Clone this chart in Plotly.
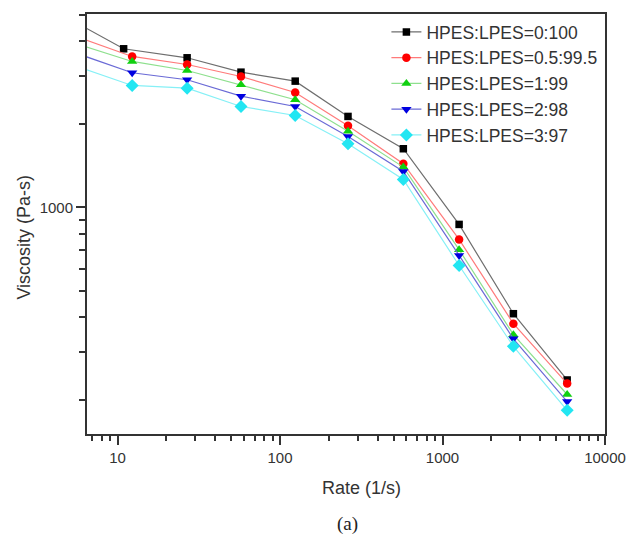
import plotly.graph_objects as go

# ── Data ─────────────────────────────────────────────────────────────────────
NAMES = [
    "HPES:LPES=0:100",
    "HPES:LPES=0.5:99.5",
    "HPES:LPES=1:99",
    "HPES:LPES=2:98",
    "HPES:LPES=3:97",
]

# shear rate (1/s); first point lies just left of the axis and is clipped
RATE_0 = [5.5, 10.9, 26.8, 57.5, 124, 262, 574, 1265, 2730, 5850]
RATE = [5.5, 12.3, 26.8, 57.5, 124, 262, 574, 1265, 2730, 5850]

VISC_0 = [4690, 3758, 3486, 3092, 2869, 2137, 1632, 868, 412, 237]
VISC_05 = [4170, 3525, 3297, 2983, 2610, 1977, 1440, 766, 379, 230]
VISC_1 = [3930, 3381, 3135, 2784, 2456, 1890, 1400, 703, 346, 210]
VISC_2 = [3630, 3076, 2902, 2531, 2322, 1808, 1350, 670, 334, 198]
VISC_3 = [3260, 2767, 2705, 2322, 2154, 1701, 1263, 616, 314, 184]

# ── Style ────────────────────────────────────────────────────────────────────
FONT = "Liberation Sans, Arial, sans-serif"
AXIS = "#333333"
STYLES = [
    # marker colour, line colour, symbol, size
    ("#000000", "#6e6e6e", "square", 7.5),
    ("#ff0000", "#ff7a7a", "circle", 8.5),
    ("#10d010", "#8ee08e", "triangle-up", 9),
    ("#0000e0", "#6a6ad6", "triangle-down", 9),
    ("#22e6f2", "#86f0f6", "diamond", 10),
]

XS = [RATE_0, RATE, RATE, RATE, RATE]
YS = [VISC_0, VISC_05, VISC_1, VISC_2, VISC_3]

fig = go.Figure()
for name, xs, ys, (mc, lc, sym, size) in zip(NAMES, XS, YS, STYLES):
    fig.add_trace(
        go.Scatter(
            x=xs,
            y=ys,
            name=name,
            mode="lines+markers",
            line=dict(color=lc, width=1.2),
            marker=dict(color=mc, symbol=sym, size=size, line=dict(width=0)),
        )
    )

x_minor = [m * 10 ** e for e in range(0, 4) for m in range(2, 10)]
y_minor = [m * 10 ** e for e in range(2, 4) for m in range(2, 10)]

axis_common = dict(
    type="log",
    showgrid=False,
    zeroline=False,
    showline=True,
    linecolor=AXIS,
    linewidth=2,
    mirror=True,
    ticks="outside",
    ticklen=9,
    tickwidth=1.5,
    tickcolor=AXIS,
    tickfont=dict(family=FONT, size=15, color="#333333"),
)

fig.update_xaxes(
    **axis_common,
    range=[0.812, 4.0],
    tickmode="array",
    tickvals=[10, 100, 1000, 10000],
    ticktext=["10", "100", "1000", "10000"],
    minor=dict(ticks="outside", ticklen=5, tickwidth=1.5, tickcolor=AXIS,
               tickmode="array", tickvals=x_minor),
)
fig.update_yaxes(
    **axis_common,
    range=[2.179, 3.701],
    tickmode="array",
    tickvals=[1000],
    ticktext=["1000"],
    minor=dict(ticks="outside", ticklen=6, tickwidth=1.5, tickcolor=AXIS,
               tickmode="array", tickvals=y_minor),
)

# axis titles and caption as annotations so they sit where the reference has them
fig.add_annotation(
    text="Viscosity (Pa-s)", xref="paper", yref="paper", x=-0.1224, y=0.469,
    textangle=-90, showarrow=False, xanchor="center", yanchor="middle",
    font=dict(family=FONT, size=18, color="#333333"),
)
fig.add_annotation(
    text="Rate (1/s)", xref="paper", yref="paper", x=0.5294, y=-0.1286,
    showarrow=False, xanchor="center", yanchor="middle",
    font=dict(family=FONT, size=18, color="#333333"),
)
fig.add_annotation(
    text="(a)", xref="paper", yref="paper", x=0.502, y=-0.2143,
    showarrow=False, xanchor="center", yanchor="middle",
    font=dict(family="Liberation Serif, Times New Roman, serif", size=19, color="#222222"),
)

fig.update_layout(
    width=638,
    height=535,
    margin=dict(l=87, r=24, t=14, b=101),
    plot_bgcolor="white",
    paper_bgcolor="white",
    font=dict(family=FONT, color="#333333"),
    legend=dict(
        x=0.578, y=1.0, xanchor="left", yanchor="top",
        bgcolor="rgba(0,0,0,0)",
        font=dict(family=FONT, size=17.5, color="#333333"),
        tracegroupgap=0,
    ),
)

# the page body has a default 8px margin; drop it so the figure fills the window
fig.write_html(
    "out.html",
    config={"displayModeBar": False},
    post_script="document.body.style.margin = '0';",
)
